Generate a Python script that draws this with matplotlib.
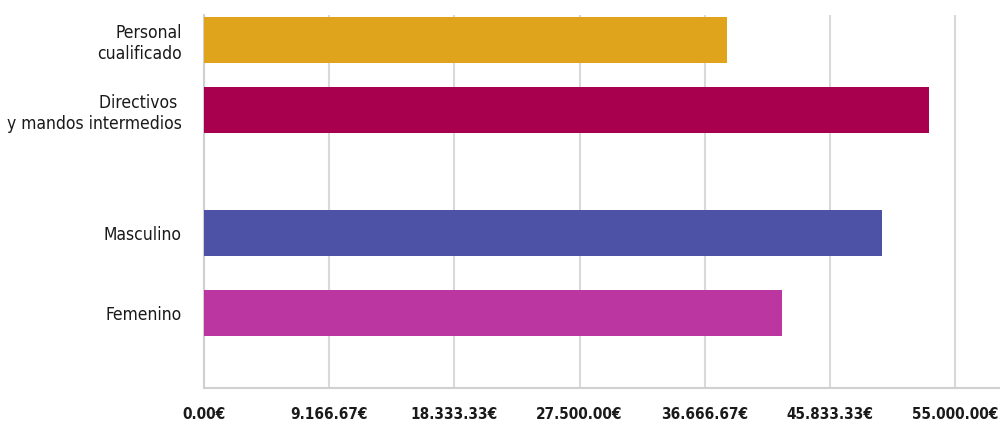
import matplotlib
matplotlib.use("Agg")
import matplotlib.pyplot as plt
from matplotlib import font_manager as fm
from matplotlib.ticker import FixedLocator

categories = ["Personal\ncualificado", "Directivos \ny mandos intermedios", "Masculino", "Femenino"]
values = [38300, 53100, 49650, 42330]
colors = ["#E0A41C", "#A8004F", "#4D52A6", "#BB36A0"]
tick_values = [0, 9166.67, 18333.33, 27500, 36666.67, 45833.33, 55000]
tick_labels = ["0.00€", "9.166.67€", "18.333.33€", "27.500.00€", "36.666.67€", "45.833.33€", "55.000.00€"]

# layout positions (pixel-like rows)
ypos = [40, 110, 233, 313]

bold_prop = fm.FontProperties(family='DejaVu Sans', weight='bold', stretch='condensed', size=11)

plt.rcParams['font.family'] = ['DejaVu Sans']
fig = plt.figure(figsize=(10, 4.23), dpi=100)
ax = fig.add_axes([0.204, (423 - 388) / 423, 1 - 0.204, (388 - 15) / 423])

ax.barh(ypos, values, height=46, color=colors, zorder=3)
ax.set_ylim(388, 15)
ax.set_xlim(0, 55000 * 796 / 751)

ax.xaxis.set_major_locator(FixedLocator(tick_values))
ax.set_xticklabels(tick_labels, fontproperties=bold_prop, color='#1a1a1a')
ax.tick_params(axis='x', length=0, pad=14)
ax.grid(axis='x', color='#d9d9d9', linewidth=1.5, zorder=0)

ax.set_yticks(ypos)
ax.set_yticklabels(categories, fontsize=12.5, fontstretch='condensed', color='#1a1a1a', ha='right', multialignment='right')
ax.tick_params(axis='y', length=0, pad=16)

for s in ['top', 'right']:
    ax.spines[s].set_visible(False)
for s in ['left', 'bottom']:
    ax.spines[s].set_color('#d0d0d0')
    ax.spines[s].set_linewidth(1.5)

fig.savefig("out.png", dpi=100)
